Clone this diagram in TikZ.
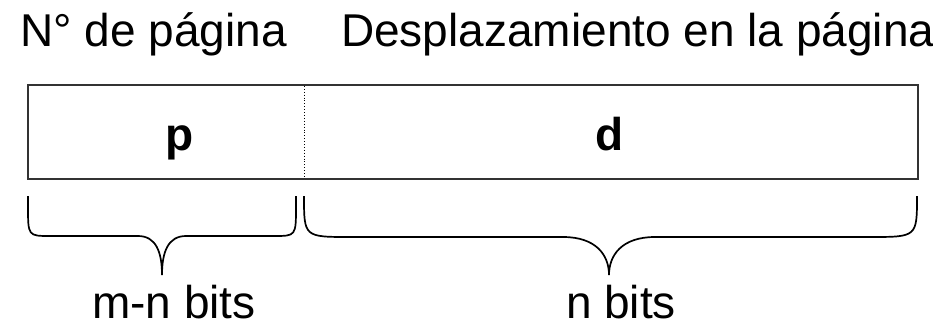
\documentclass[tikz,border=0pt]{standalone}
\usepackage{fontspec}
\setmainfont{Liberation Sans}
\newfontfamily\fieldfont{Liberation Sans Bold}
\begin{document}
\begin{tikzpicture}[x=1pt,y=-1pt,
  lbl/.style={inner sep=0pt,font=\fontsize{46}{50}\selectfont},
  fld/.style={inner sep=0pt,font=\fieldfont\fontsize{46}{50}\selectfont},
  brace/.style={line width=1.7pt,black},
  boxline/.style={line width=2pt,draw=black!80}]
\useasboundingbox (0,0) rectangle (933,326);
% box
\draw[boxline] (28,85) rectangle (918,179);
\draw[line width=0.9pt,dotted] (304,86) -- (304,178);
% top labels
\node[lbl,anchor=base west] (np) at (20,47) {N° de página};
\node[lbl,anchor=base west] (dp) at (341,47) {Desplazamiento en la página};
% field labels
\node[fld,anchor=base] (p) at (180,150) {p};
\node[fld,anchor=base] (d) at (610,150) {d};
% left brace
\draw[brace] (28,196) -- (28,206) .. controls (28,236) .. (50,236) -- (138,236)
  .. controls (156,236) and (162,252) .. (162,275)
  .. controls (162,252) and (168,236) .. (186,236) -- (274,236)
  .. controls (296,236) .. (296,206) -- (296,196);
% right brace
\draw[brace] (304,196) .. controls (304,237) .. (350,237) -- (563,237)
  .. controls (596,237) and (609,255) .. (609,275)
  .. controls (609,255) and (622,237) .. (655,237) -- (870,237)
  .. controls (917,237) .. (917,196);
% bottom labels
\node[lbl,anchor=base] (mn) at (174,318) {m-n bits};
\node[lbl,anchor=base] (nb) at (621,318) {n bits};
\end{tikzpicture}
\end{document}
